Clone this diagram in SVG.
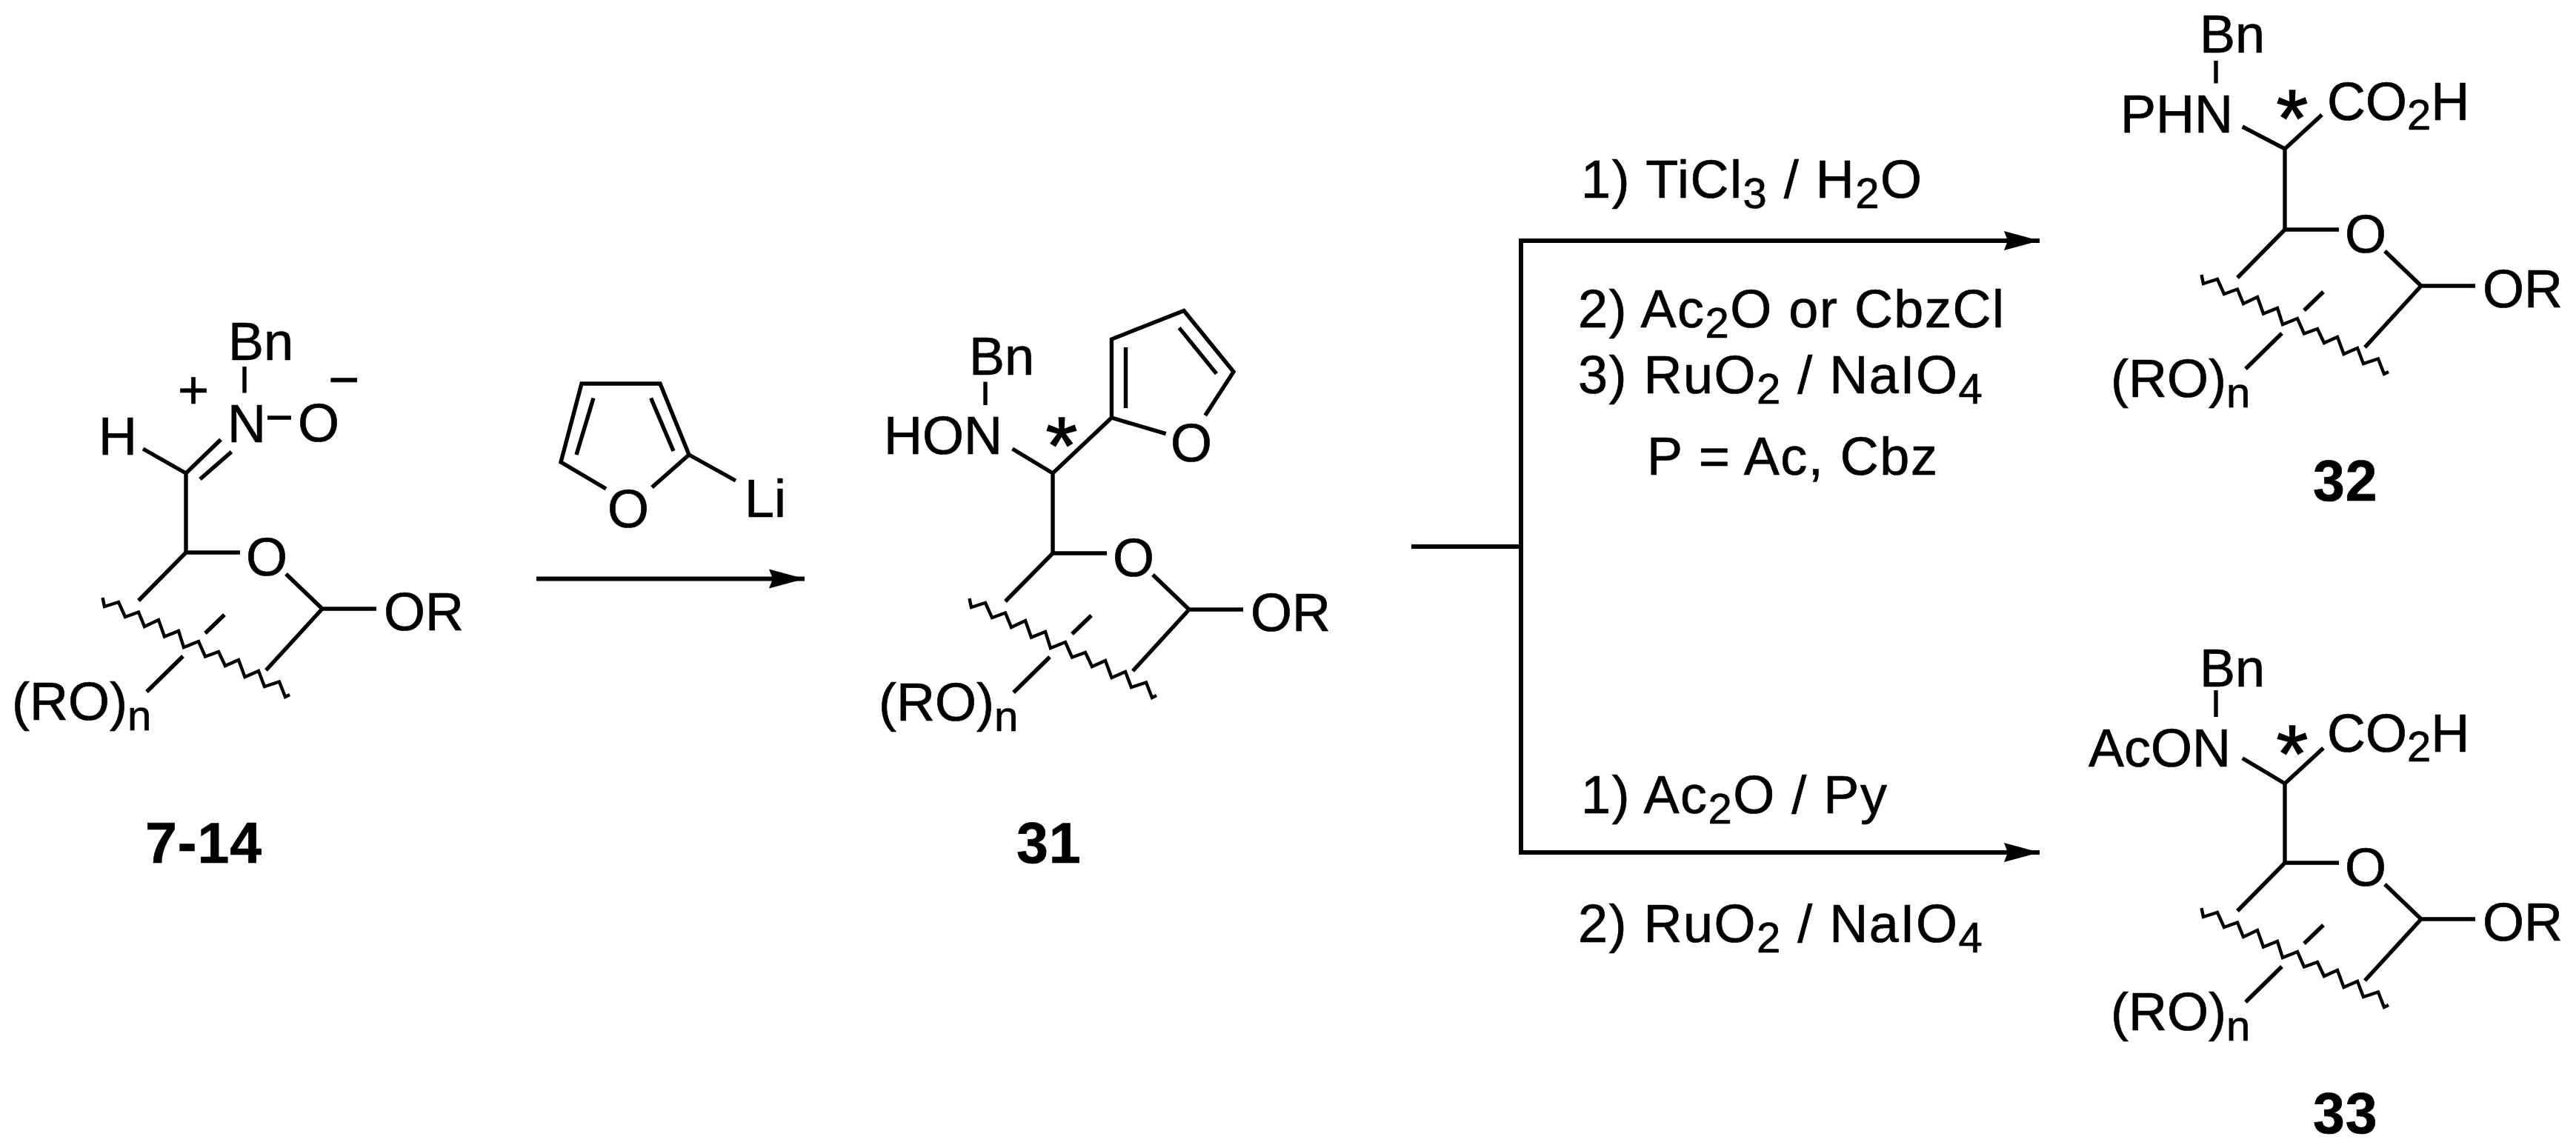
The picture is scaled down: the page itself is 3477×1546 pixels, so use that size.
<svg xmlns="http://www.w3.org/2000/svg" xmlns:xlink="http://www.w3.org/1999/xlink" width="3477" height="1546" viewBox="0 0 3477 1546">
<style>
text{font-family:"Liberation Sans",Arial,sans-serif;font-size:72px;fill:#000;stroke:#000;stroke-width:.7px}
.b{font-weight:700;font-size:77px;letter-spacing:1px}
.s{font-size:58px}
.r{letter-spacing:1.5px}
.a{font-size:110px;stroke-width:1.5px;text-anchor:middle}
.m{text-anchor:middle}
.l{fill:none;stroke:#000;stroke-width:5.4}
.w{fill:none;stroke:#000;stroke-width:4.4}
.c{fill:none;stroke:#000;stroke-width:6}
</style>
<defs>
<marker id="head" markerUnits="userSpaceOnUse" markerWidth="50" markerHeight="30" refX="48" refY="15" orient="auto">
<path d="M0 2L48 15L0 28L5 15Z" fill="#000"/>
</marker>
<g id="ring">
<path class="l" d="M73 0H0L-64 65M135 29L184 76H257M184 76L108 159M26 109L52 84M-53 188L-4 140"/>
<path class="w" d="M-112.5 61L-110 73L-91 67L-82 87L-64 80.5L-56 100L-37 91L-29 113.5L-10 106L-3 128L17 120L26 140.5L44 134L53 153L71 145L79.5 168L98 160L106 181L126 174.500L134 195L140 192"/>
</g>
</defs>
<rect width="3477" height="1546" fill="#fff"/>

<g id="connectors">
<path class="c" d="M724 781.5H1086" marker-end="url(#head)"/>
<path class="c" d="M1905 738H2053M2053 322V1154"/>
<path class="c" d="M2053 325H2753" marker-end="url(#head)"/>
<path class="c" d="M2053 1151H2753" marker-end="url(#head)"/>
</g>

<g id="compound-7-14">
<use xlink:href="#ring" href="#ring" x="251" y="746"/>
<path class="l" d="M193 606L251 639L298 593.5M270 647L312.500 610M251 639V746M330 495V530.500M361 564H393"/>
<text x="308" y="486">Bn</text>
<text class="m" x="261" y="551">+</text>
<text class="m" x="464" y="537">−</text>
<text x="133" y="614">H</text>
<text x="307" y="597">N</text>
<text x="402" y="596">O</text>
<text x="332" y="777">O</text>
<text x="518" y="851">OR</text>
<text x="16" y="972">(RO)<tspan class="s" dy="14">n</tspan></text>
<text class="b" x="196" y="1165">7-14</text>
</g>

<g id="reagent-furyllithium">
<path class="l" d="M880 658L930 614L891 518H785L757 624L818 660M801 537.500L778 614M878.600 537.500L909 609M930 614L993 649"/>
<text x="820" y="712">O</text>
<text x="1005" y="698">Li</text>
</g>

<g id="compound-31">
<use xlink:href="#ring" href="#ring" x="1421" y="747"/>
<path class="l" d="M1366.500 606L1421 639L1500.400 564L1500.400 458L1598 419.500L1665 502L1626.700 561M1500.400 564L1573.700 585.700M1519.500 469V551M1591.600 442.600L1642 504.600M1421 639V747M1330 515.500V547"/>
<text x="1308" y="506">Bn</text>
<text x="1193" y="613">HON</text>
<text class="a" x="1433" y="639">*</text>
<text x="1580" y="623">O</text>
<text x="1502" y="778">O</text>
<text x="1688" y="852">OR</text>
<text x="1186" y="973">(RO)<tspan class="s" dy="14">n</tspan></text>
<text class="b" x="1372" y="1165">31</text>
</g>

<g id="conditions-upper">
<text class="r" x="2134" y="267">1) TiCl<tspan class="s" dy="14">3</tspan><tspan dy="-14"> / H</tspan><tspan class="s" dy="14">2</tspan><tspan dy="-14">O</tspan></text>
<text class="r" x="2130" y="442">2) Ac<tspan class="s" dy="14">2</tspan><tspan dy="-14">O or CbzCl</tspan></text>
<text class="r" x="2130" y="531">3) RuO<tspan class="s" dy="14">2</tspan><tspan dy="-14"> / NaIO</tspan><tspan class="s" dy="14">4</tspan></text>
<text class="r" x="2223" y="641">P = Ac, Cbz</text>
</g>

<g id="conditions-lower">
<text class="r" x="2134" y="1098">1) Ac<tspan class="s" dy="14">2</tspan><tspan dy="-14">O / Py</tspan></text>
<text class="r" x="2130" y="1272">2) RuO<tspan class="s" dy="14">2</tspan><tspan dy="-14"> / NaIO</tspan><tspan class="s" dy="14">4</tspan></text>
</g>

<g id="compound-32">
<use xlink:href="#ring" href="#ring" x="3084" y="310"/>
<path class="l" d="M3026.700 171L3084 201L3134 155M3084 201V310M2991 82V112.500"/>
<text x="2969" y="71">Bn</text>
<text x="2862" y="179">PHN</text>
<text class="a" x="3094" y="197">*</text>
<text x="3141" y="161.500">CO<tspan class="s" dy="13">2</tspan><tspan dy="-13">H</tspan></text>
<text x="3165" y="341">O</text>
<text x="3351" y="415">OR</text>
<text x="2849" y="536">(RO)<tspan class="s" dy="14">n</tspan></text>
<text class="b" x="3122" y="676">32</text>
</g>

<g id="compound-33">
<use xlink:href="#ring" href="#ring" x="3084" y="1165"/>
<path class="l" d="M3026.700 1023.700L3084 1058L3136 1010M3084 1058V1165M2991 932V968"/>
<text x="2969" y="926.500">Bn</text>
<text x="2819" y="1034.500">AcON</text>
<text class="a" x="3094" y="1055">*</text>
<text x="3141" y="1014.700">CO<tspan class="s" dy="13">2</tspan><tspan dy="-13">H</tspan></text>
<text x="3165" y="1196">O</text>
<text x="3351" y="1270">OR</text>
<text x="2849" y="1391">(RO)<tspan class="s" dy="14">n</tspan></text>
<text class="b" x="3122" y="1530">33</text>
</g>
</svg>
